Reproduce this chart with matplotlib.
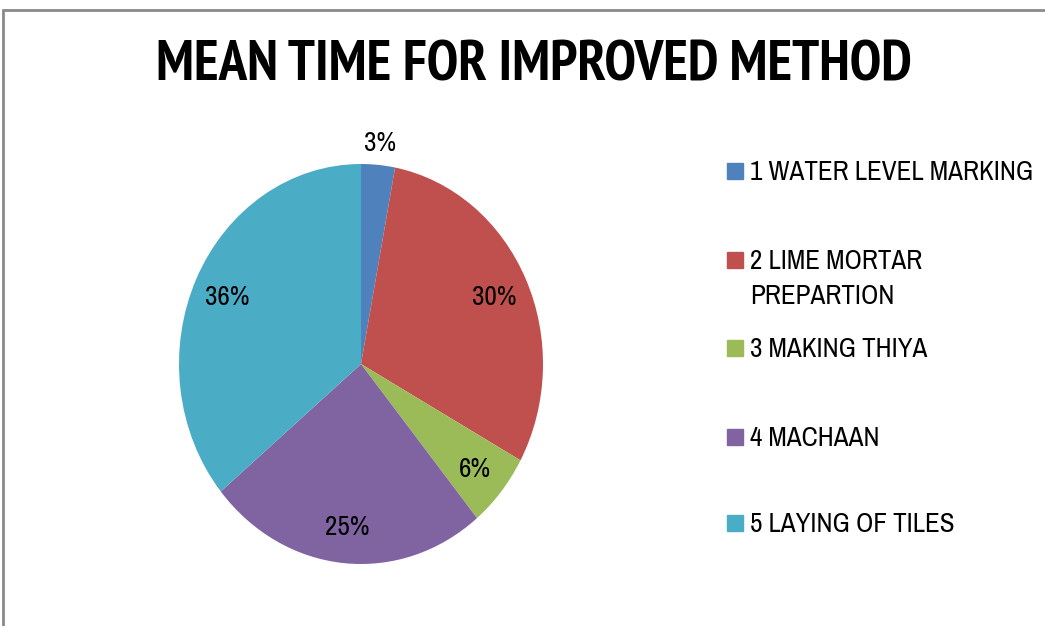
import numpy as np
import matplotlib
matplotlib.use("Agg")
import matplotlib.pyplot as plt
from matplotlib.patches import Rectangle

plt.rcParams['font.family'] = ['Archivo Narrow', 'DejaVu Sans']

# data
steps = ['1 WATER LEVEL MARKING', '2 LIME MORTAR\nPREPARTION', '3 MAKING THIYA',
         '4 MACHAAN', '5 LAYING OF TILES']
shares = [3, 30, 6, 25, 36]
colors = ['#4F81BD', '#C0504D', '#9BBB59', '#8064A2', '#4BACC6']

W, H = 1045, 626
fig = plt.figure(figsize=(W / 100, H / 100), dpi=100)

# pie axes placed in pixels (pie is a bit stretched vertically like the original)
ax = fig.add_axes([179 / W, (H - 564) / H, 364 / W, 400 / H])
wedges, _, pcts = ax.pie(shares, colors=colors, startangle=90, counterclock=False,
                         autopct=lambda p: '%d%%' % round(p), pctdistance=0.81,
                         textprops={'fontsize': 19.5, 'color': 'black'})
ax.set_aspect('auto')
ax.set_xlim(-1, 1)
ax.set_ylim(-1, 1)
for t in pcts:
    t.set_va('center_baseline')

# small slice label sits outside the pie
w0 = wedges[0]
mid = np.deg2rad((w0.theta1 + w0.theta2) / 2)
pcts[0].set_position((1.12 * np.cos(mid), 1.12 * np.sin(mid)))

# title
fig.text(534 / W, 1 - 66 / H, 'MEAN TIME FOR IMPROVED METHOD', ha='center', va='center',
         fontsize=41, fontweight='bold', family=['PT Sans Narrow', 'DejaVu Sans'])

# legend drawn by hand to keep Excel-like spacing
leg_y = [171, 260, 348, 437, 523]
for lab, col, y in zip(steps, colors, leg_y):
    fig.add_artist(Rectangle((727 / W, 1 - (y + 8) / H), 16 / W, 16 / H,
                             transform=fig.transFigure, color=col))
    fig.text(750 / W, 1 - (y - 11) / H, lab, ha='left', va='top', fontsize=19.5,
             linespacing=1.5)

# grey frame (right and bottom edges are cut off)
fig.add_artist(Rectangle((3 / W, -0.1), 1.2, 1.1 - 10 / H, transform=fig.transFigure,
                         fill=False, edgecolor='#8a8a8a', linewidth=2))

fig.savefig('out.png', dpi=100)
